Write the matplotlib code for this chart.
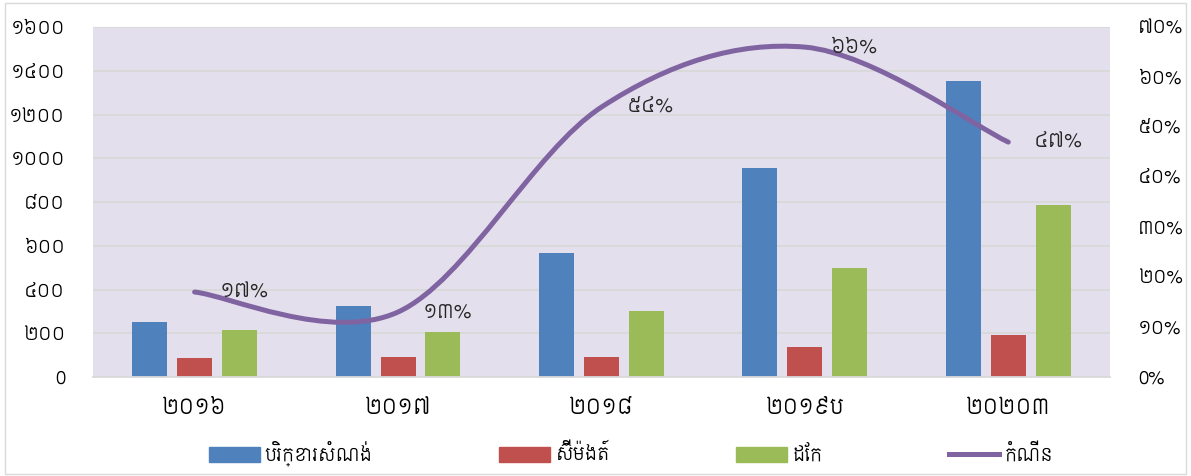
import matplotlib
matplotlib.use('Agg')
import matplotlib.pyplot as plt
import numpy as np
from matplotlib.path import Path
from matplotlib.patches import PathPatch, Rectangle
from matplotlib.lines import Line2D

plt.rcParams['font.family'] = ['Siemreap', 'DejaVu Sans']

years = ['២០១៦', '២០១៧', '២០១៨', '២០១៩ប', '២០២០៣']
equipment = [250, 325, 565, 955, 1355]
cement = [85, 90, 90, 135, 190]
steel = [215, 205, 300, 500, 785]
growth = [17, 13, 54, 66, 47]
growth_labels = ['១៧%', '១៣%', '៥៤%', '៦៦%', '៤៧%']
left_ticks = [0, 200, 400, 600, 800, 1000, 1200, 1400, 1600]
left_labels = ['0', '២០០', '៤០០', '៦០០', '៨០០', '១០០០', '១២០០', '១៤០០', '១៦០០']
right_ticks = [0, 10, 20, 30, 40, 50, 60, 70]
right_labels = ['0%', '១០%', '២០%', '៣០%', '៤០%', '៥០%', '៦០%', '៧០%']
legend_names = ['បរិក្ខារសំណង់', 'ស៊ីម៉ងត៍', 'ដែក', 'កំណើន']

BLUE, RED, GREEN, PURPLE = '#4F81BD', '#C0504D', '#9BBB59', '#8064A2'

fig = plt.figure(figsize=(11.91, 4.76), dpi=100)
fig.patches.append(Rectangle((0.004, 0.004), 0.992, 0.99, transform=fig.transFigure,
                             fill=False, edgecolor='#D9D9D9', linewidth=1))
ax = fig.add_axes([0.078, 0.208, 0.854, 0.735])
ax.set_facecolor('#E4DFEC')

x = np.arange(len(years))
w = 0.172
step = 0.221
ax.bar(x - step, equipment, w, color=BLUE, zorder=2)
ax.bar(x, cement, w, color=RED, zorder=2)
ax.bar(x + step, steel, w, color=GREEN, zorder=2)

ax.set_xlim(-0.5, len(years) - 0.5)
ax.set_ylim(0, 1600)
ax.set_yticks(left_ticks)
ax.set_yticklabels(left_labels, fontsize=13)
ax.set_xticks(x)
ax.set_xticklabels(years, fontsize=15)
ax.tick_params(axis='y', length=0, pad=20)
ax.tick_params(axis='x', length=0, pad=15)
ax.grid(axis='y', color='#D9D9D9', linewidth=1.3, zorder=1)
ax.set_axisbelow(True)
for s in ['top', 'left', 'right']:
    ax.spines[s].set_visible(False)
ax.spines['bottom'].set_color('#D9D9D9')
ax.spines['bottom'].set_linewidth(1.3)

# growth on the right axis, smoothed with bezier segments through the points
ax2 = ax.twinx()
ax2.set_ylim(0, 70)
ax2.set_yticks(right_ticks)
ax2.set_yticklabels(right_labels, fontsize=13)
ax2.tick_params(axis='y', length=0, pad=20)
for s in ax2.spines.values():
    s.set_visible(False)

pts = np.column_stack([x, growth]).astype(float)
n = len(pts)
verts = [pts[0]]
codes = [Path.MOVETO]
for i in range(n - 1):
    p0 = pts[max(i - 1, 0)]
    p1 = pts[i]
    p2 = pts[i + 1]
    p3 = pts[min(i + 2, n - 1)]
    c1 = p1 + (p2 - p0) / 6
    c2 = p2 - (p3 - p1) / 6
    verts += [c1, c2, p2]
    codes += [Path.CURVE4] * 3
ax2.add_patch(PathPatch(Path(verts, codes), facecolor='none', edgecolor=PURPLE,
                        linewidth=3.6, capstyle='round', zorder=3))

for xi, g, lab in zip(x, growth, growth_labels):
    ax2.annotate(lab, (xi, g), xytext=(18, 0), textcoords='offset points',
                 ha='left', va='center', fontsize=14, color='#262626')

handles = [Rectangle((0, 0), 1, 1, color=BLUE), Rectangle((0, 0), 1, 1, color=RED),
           Rectangle((0, 0), 1, 1, color=GREEN), Line2D([], [], color=PURPLE, linewidth=3.6)]
fig.legend(handles, legend_names, loc='center', bbox_to_anchor=(0.53, 0.048), ncol=4,
           frameon=False, fontsize=13, handlelength=2.8, handleheight=0.9,
           handletextpad=0.3, columnspacing=7.0)

fig.savefig('out.png')
